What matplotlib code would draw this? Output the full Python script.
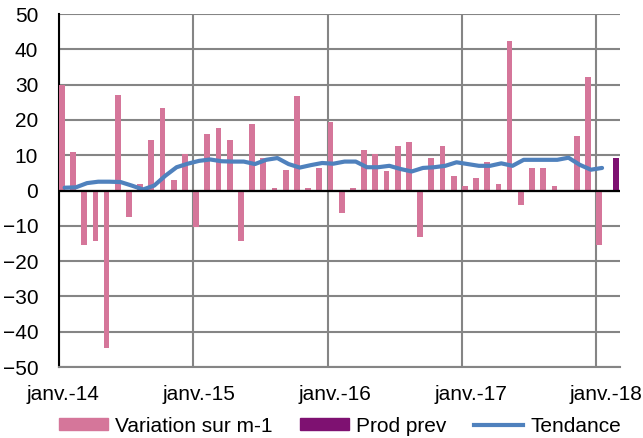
import numpy as np
import matplotlib
matplotlib.use("Agg")
import matplotlib.pyplot as plt
from matplotlib.patches import Patch
from matplotlib.lines import Line2D

plt.rcParams['font.family'] = ['Liberation Sans', 'DejaVu Sans']

# variation mensuelle (m-1), janv.-14 -> janv.-18
variation = [30.0, 11.0, -15.5, -14.3, -44.7, 27.2, -7.6, 1.9, 14.4, 23.3, 3.1, 10.3,
             -10.4, 16.0, 17.7, 14.4, -14.4, 18.8, 9.1, 0.85, 5.9, 26.8, 0.85, 6.5,
             19.4, -6.5, 0.85, 11.5, 10.3, 5.4, 12.7, 13.8, -13.2, 9.3, 12.7, 4.2,
             1.3, 3.6, 8.1, 1.9, 42.4, -4.2, 6.4, 6.4, 1.3, -0.3, 15.5, 32.3,
             -15.5]
# tendance
tendance = [0.8, 0.9, 2.1, 2.5, 2.5, 2.4, 1.4, 0.3, 1.4, 4.2, 6.6, 7.6,
            8.4, 8.8, 8.3, 8.2, 8.2, 7.5, 8.7, 9.2, 7.5, 6.5, 7.2, 7.8,
            7.6, 8.2, 8.2, 6.6, 6.6, 7.0, 6.1, 5.4, 6.4, 6.6, 7.0, 8.0,
            7.5, 7.0, 7.0, 7.7, 7.0, 8.7, 8.7, 8.7, 8.7, 9.3, 7.3, 5.9,
            6.4]
# prevision (fevr.-18)
prod_prev = 9.2
annees = ["janv.-14", "janv.-15", "janv.-16", "janv.-17", "janv.-18"]

pink = '#D5769A'
purple = '#7E1171'
blue = '#4F81BD'
grid_c = '#858585'
fs = 15

n = len(variation)
x = np.arange(n)
w = 0.51

fig = plt.figure(figsize=(6.43, 4.38), dpi=100)
ax = fig.add_axes([0.0918, 0.162, 0.8724, 0.806])

ax.bar(x + 0.5 - w / 2, variation, width=w, color=pink, zorder=3)
ax.bar(n + 0.5 + w / 2, prod_prev, width=w, color=purple, zorder=3)
ax.plot(x + 0.5, tendance, color=blue, lw=3, zorder=4, solid_capstyle='round')
ax.axhline(0, color='black', lw=1.6, zorder=5)

ax.set_xlim(0, 50.1)
ax.set_ylim(-50, 50)
ax.set_yticks(np.arange(-50, 51, 10))
ax.set_xticks(np.arange(0, n, 12))
ax.set_xticklabels([])
ax.tick_params(length=0, labelsize=fs, colors='black')
ax.tick_params(axis='y', pad=15)
ax.grid(True, color=grid_c, lw=1.5, zorder=0)

for s in ['top', 'right']:
    ax.spines[s].set_visible(False)
ax.spines['bottom'].set_color(grid_c)
ax.spines['bottom'].set_linewidth(1.5)
ax.spines['left'].set_color('black')
ax.spines['left'].set_linewidth(1.5)

# libelles des annees (places comme dans l'original)
lab_x = [63, 199, 335, 471, 606]
for px, lab in zip(lab_x, annees):
    fig.text(px / 643, 1 - 395 / 438, lab, ha='center', va='center', fontsize=fs)

handles = [Patch(color=pink), Patch(color=purple), Line2D([], [], color=blue, lw=3)]
fig.legend(handles, ["Variation sur m-1", "Prod prev", "Tendance"],
           loc='center', bbox_to_anchor=(340 / 643, 1 - 426 / 438), ncol=3,
           frameon=False, fontsize=fs, handlelength=2.36, handleheight=0.55,
           handletextpad=0.34, columnspacing=1.3, borderpad=0)

fig.savefig("out.png", dpi=100)
